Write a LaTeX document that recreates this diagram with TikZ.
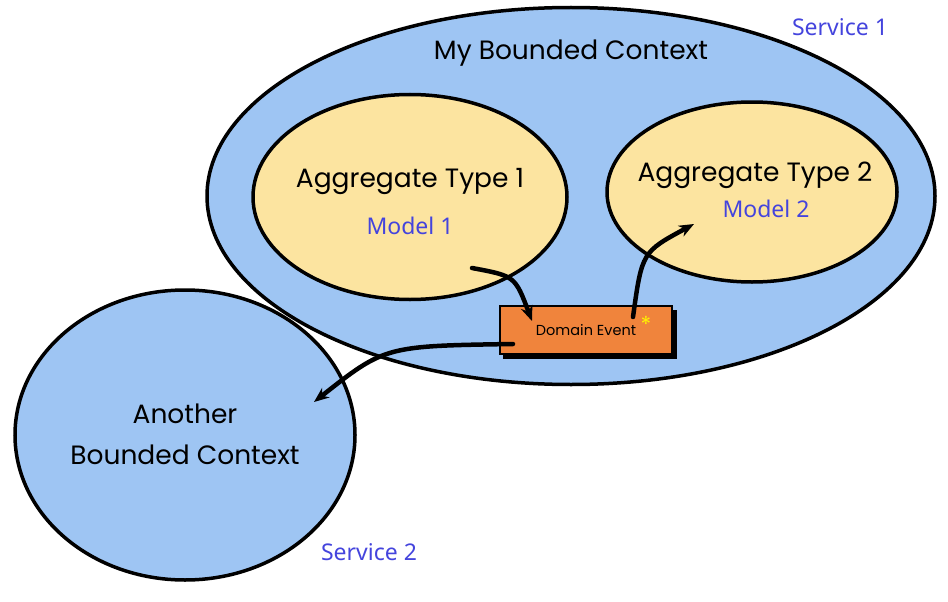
\documentclass[tikz,border=0pt]{standalone}
\usepackage{fontspec}
\setmainfont{Poppins}
\newfontfamily\labelfont{Noto Sans}
\usetikzlibrary{shapes.geometric,arrows.meta,positioning,calc}

\definecolor{ctxblue}{HTML}{9EC5F3}
\definecolor{aggyellow}{HTML}{FCE4A0}
\definecolor{evorange}{HTML}{F0843C}
\definecolor{svcblue}{HTML}{4444DD}

\begin{document}
\begin{tikzpicture}[x=1pt,y=-1pt,>={Stealth[length=15pt,width=12pt]}]
  \useasboundingbox (0,0) rectangle (948,602);
  \tikzset{
    context/.style={ellipse,draw,line width=3.5pt,fill=ctxblue,inner sep=0pt},
    aggregate/.style={ellipse,draw,line width=3.5pt,fill=aggyellow,inner sep=0pt},
    hand/.style={font=\fontsize{26.5}{41}\selectfont},
    service/.style={text=svcblue,font=\labelfont\fontsize{23}{26}\selectfont},
    flow/.style={->,line width=4.5pt,line cap=round}
  }
  % contesti
  \node[context,minimum width=728pt,minimum height=377pt] (mine) at (571,196) {};
  \node[context,minimum width=340pt,minimum height=290pt] (other) at (185,435) {};
  \node[hand,align=center] (otherlbl) at (185,434) {Another\\Bounded Context};
  \node[hand] (minelbl) at (571,53) {My Bounded Context};
  % aggregati
  \node[aggregate,minimum width=314pt,minimum height=205pt] (agg1) at (410,197) {};
  \node[aggregate,minimum width=290pt,minimum height=180pt] (agg2) at (752,192) {};
  \node[hand] (agg1lbl) at (410,181) {Aggregate Type 1};
  \node[hand] (agg2lbl) at (755,175) {Aggregate Type 2};
  \node[service] (model1) at (410,226) {Model 1};
  \node[service] (model2) at (766,209) {Model 2};
  % evento
  \fill[black] (503,310) rectangle (677,359);
  \node[draw,line width=2pt,fill=evorange,minimum width=172pt,minimum height=48pt,
        inner sep=0pt,font=\fontsize{14.5}{16}\selectfont] (event) at (586,330) {Domain Event};
  \node[text=yellow,font=\fontsize{22}{22}\selectfont] (star) at (646,324) {*};
  % servizi
  \node[service] (svc1) at (840,27) {Service 1};
  \node[service] (svc2) at (369,552) {Service 2};
  % frecce
  \coordinate (src1) at (472,268);
  \coordinate (dst1) at (532,321);
  \coordinate (src2) at (633,317);
  \coordinate (dst2) at (694,224);
  \coordinate (src3) at (513,344);
  \coordinate (dst3) at (314,402);
  \draw[flow] (src1) .. controls (515,276) .. (dst1);
  \draw[flow] (src2) .. controls (642,252) .. (dst2);
  \draw[flow] (src3) .. controls (385,346) .. (dst3);
\end{tikzpicture}
\end{document}
